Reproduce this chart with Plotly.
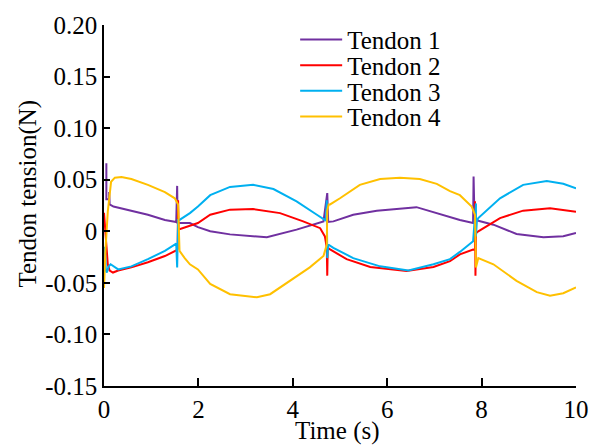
import plotly.graph_objects as go

# ---- data ----
t1 = [0.05, 0.05, 0.11, 0.11, 0.12, 0.20, 0.58, 0.93, 1.29, 1.53, 1.55, 1.56, 1.82, 1.99, 2.25, 2.67, 3.45, 4.08, 4.65, 4.73, 4.75, 4.86, 5.28, 5.78, 6.62, 7.05, 7.54, 7.82, 7.83, 7.85, 7.93, 8.25, 8.74, 9.31, 9.73, 10.0]
v1 = [0.066, 0.031, 0.031, 0.038, 0.026, 0.024, 0.020, 0.016, 0.011, 0.009, 0.044, 0.008, 0.008, 0.004, 0.000, -0.003, -0.0058, 0.0016, 0.0096, 0.037, 0.009, 0.0096, 0.016, 0.020, 0.0234, 0.0176, 0.011, 0.008, 0.053, 0.011, 0.0103, 0.0064, -0.0026, -0.0058, -0.0048, -0.0016]

t2 = [0.0, 0.04, 0.08, 0.12, 0.19, 0.30, 0.58, 0.93, 1.29, 1.53, 1.56, 1.57, 1.58, 1.60, 1.82, 1.99, 2.25, 2.67, 3.16, 3.73, 4.22, 4.58, 4.68, 4.72, 4.73, 4.74, 4.79, 5.14, 5.64, 6.41, 6.98, 7.33, 7.54, 7.82, 7.86, 7.86, 7.87, 7.88, 7.93, 8.39, 8.88, 9.45, 10.0]
v2 = [0.018, -0.010, -0.032, -0.038, -0.040, -0.038, -0.035, -0.030, -0.024, -0.0186, -0.017, 0.030, 0.002, 0.002, 0.005, 0.008, 0.016, 0.021, 0.0215, 0.0176, 0.0096, 0.003, -0.005, -0.016, -0.043, -0.016, -0.0176, -0.027, -0.0346, -0.0385, -0.0346, -0.029, -0.0224, -0.0176, -0.018, 0.029, -0.043, -0.002, 0.000, 0.0128, 0.020, 0.0224, 0.019]

t3 = [0.02, 0.04, 0.06, 0.10, 0.14, 0.30, 0.58, 0.93, 1.29, 1.53, 1.55, 1.57, 1.60, 1.82, 1.99, 2.25, 2.67, 3.16, 3.59, 4.08, 4.51, 4.70, 4.72, 4.73, 4.75, 4.86, 5.28, 5.85, 6.45, 6.98, 7.33, 7.54, 7.82, 7.88, 7.88, 7.90, 7.93, 8.39, 8.88, 9.38, 9.73, 10.0]
v3 = [-0.015, -0.038, -0.040, -0.034, -0.032, -0.037, -0.034, -0.027, -0.019, -0.012, -0.035, 0.011, 0.011, 0.0176, 0.024, 0.035, 0.043, 0.045, 0.041, 0.029, 0.016, 0.0103, 0.030, -0.026, -0.0128, -0.016, -0.026, -0.034, -0.038, -0.032, -0.027, -0.020, -0.0096, 0.027, -0.005, 0.010, 0.0128, 0.032, 0.045, 0.0487, 0.046, 0.0416]

t4 = [0.0, 0.03, 0.08, 0.15, 0.23, 0.37, 0.58, 0.93, 1.29, 1.50, 1.57, 1.59, 1.60, 1.71, 1.82, 1.99, 2.25, 2.67, 3.24, 3.52, 3.94, 4.36, 4.65, 4.72, 4.73, 4.76, 4.79, 5.00, 5.42, 5.85, 6.27, 6.69, 7.05, 7.33, 7.54, 7.79, 7.86, 7.88, 7.93, 8.25, 8.74, 9.17, 9.45, 9.73, 10.0]
v4 = [-0.055, -0.019, 0.019, 0.048, 0.052, 0.0526, 0.0507, 0.045, 0.038, 0.032, 0.026, 0.000, -0.019, -0.026, -0.032, -0.037, -0.051, -0.061, -0.064, -0.061, -0.048, -0.035, -0.024, -0.0128, 0.020, 0.026, 0.026, 0.032, 0.045, 0.0507, 0.052, 0.0507, 0.046, 0.039, 0.035, 0.024, 0.016, -0.035, -0.026, -0.032, -0.048, -0.059, -0.0625, -0.060, -0.0545]

names = ["Tendon 1", "Tendon 2", "Tendon 3", "Tendon 4"]
colors = ["#7030A0", "#FF0000", "#00B0F0", "#FFC000"]

x_ticks = [0, 2, 4, 6, 8, 10]
y_ticks = [0.20, 0.15, 0.10, 0.05, 0, -0.05, -0.10, -0.15]
y_ticktext = ["0.20", "0.15", "0.10", "0.05", "0", "-0.05", "-0.10", "-0.15"]

FONT = "Liberation Serif"
FS = 25

fig = go.Figure()
legends = ["legend", "legend2", "legend3", "legend4"]
for t, v, n, c, lg in zip([t1, t2, t3, t4], [v1, v2, v3, v4], names, colors, legends):
    fig.add_trace(go.Scatter(x=t, y=v, mode="lines", name=n,
                             line=dict(color=c, width=2), legend=lg))

leg_y = [0.959, 0.888, 0.817, 0.746]
leg_common = dict(x=0.405, xanchor="left", yanchor="middle",
                  bgcolor="rgba(0,0,0,0)", borderwidth=0,
                  font=dict(family=FONT, size=FS, color="black"),
                  itemwidth=42, tracegroupgap=0)

fig.update_layout(
    width=603, height=445,
    margin=dict(l=104, r=27, t=22, b=59),
    paper_bgcolor="white", plot_bgcolor="white",
    font=dict(family=FONT, size=FS, color="black"),
    showlegend=True,
    legend=dict(y=leg_y[0], **leg_common),
    legend2=dict(y=leg_y[1], **leg_common),
    legend3=dict(y=leg_y[2], **leg_common),
    legend4=dict(y=leg_y[3], **leg_common),
    xaxis=dict(range=[0, 10], tickvals=x_ticks, ticktext=[str(v) for v in x_ticks],
               showline=True, linecolor="black", linewidth=1.5, mirror=False,
               ticks="inside", ticklen=8, tickwidth=1.5, tickcolor="black",
               showgrid=False, zeroline=False,
               tickfont=dict(family=FONT, size=FS, color="black")),
    yaxis=dict(range=[-0.15, 0.20], tickvals=y_ticks, ticktext=y_ticktext,
               showline=True, linecolor="black", linewidth=1.5, mirror=False,
               ticks="inside", ticklen=6, tickwidth=1.5, tickcolor="black",
               showgrid=False, zeroline=False,
               tickfont=dict(family=FONT, size=FS, color="black")),
    annotations=[
        dict(text="Time (s)", xref="paper", yref="paper", x=0.494, y=-0.126,
             xanchor="center", yanchor="middle", showarrow=False,
             font=dict(family=FONT, size=FS, color="black")),
        dict(text="Tendon tension(N)", xref="paper", yref="paper", x=-0.161, y=0.533,
             xanchor="center", yanchor="middle", showarrow=False, textangle=-90,
             font=dict(family=FONT, size=FS, color="black")),
    ],
)

fig.write_html("out.html", config={"displayModeBar": False},
               post_script="document.body.style.margin='0';document.body.style.overflow='hidden';")
